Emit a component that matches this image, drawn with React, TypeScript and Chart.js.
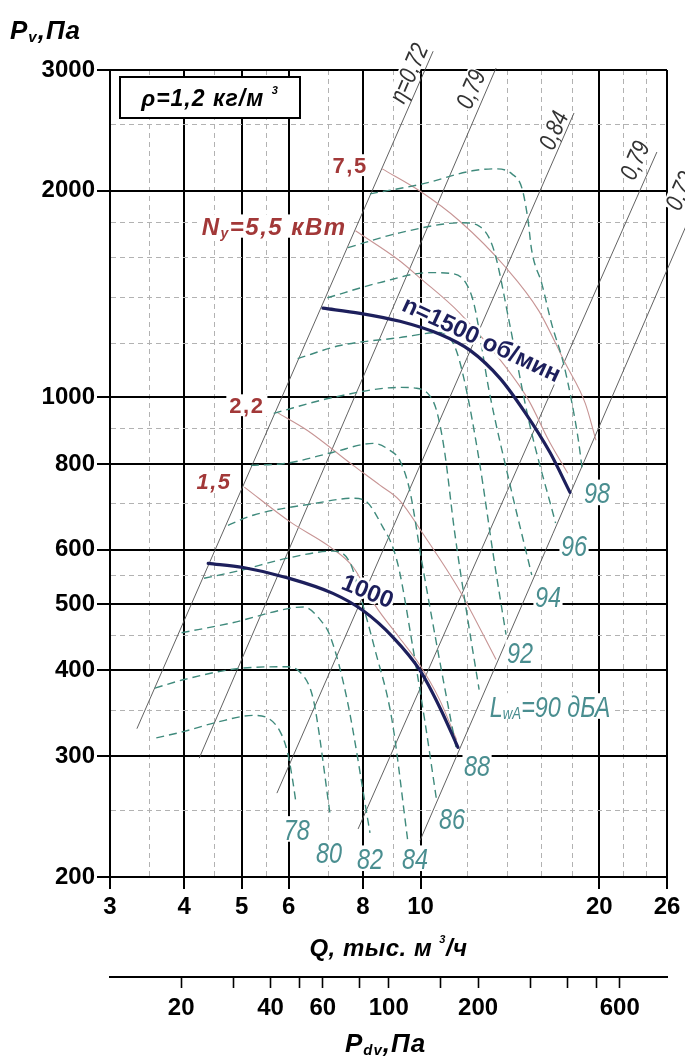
import React, { useEffect, useRef } from 'react';
import { Chart, registerables } from 'chart.js';

Chart.register(...registerables);

// ---------------- axes ----------------
const Q_MIN = 3;
const Q_MAX = 26;
const P_MIN = 200;
const P_MAX = 3000;
const Q_TICKS = [3, 3.5, 4, 4.5, 5, 5.5, 6, 7, 8, 9, 10, 12, 14, 16, 18, 20, 22, 24, 26];
const Q_LABELED = [3, 4, 5, 6, 8, 10, 20, 26];
const P_TICKS = [200, 250, 300, 350, 400, 450, 500, 550, 600, 700, 800, 900, 1000, 1200, 1400, 1600, 1800, 2000, 2500, 3000];
const P_LABELED = [200, 300, 400, 500, 600, 800, 1000, 2000, 3000];
const PDV_TICKS = [20, 30, 40, 50, 60, 80, 100, 150, 200, 300, 400, 500, 600];
const PDV_LABELED = [20, 40, 60, 100, 200, 600];
const PDV_PER_Q2 = 1.28; // Pdv = k * Q^2

// ---------------- speed curves ----------------
const N1500_Q = [6.85, 7.91, 9.23, 10.78, 12.12, 13.61, 14.99, 16.52, 17.85];
const N1500_P = [1349, 1326, 1291, 1236, 1171, 1066, 951, 831, 727];
const N1000_Q = [4.39, 5.03, 5.96, 7.12, 8.0, 8.99, 9.98, 10.78, 11.56];
const N1000_P = [573, 565, 546, 518, 489, 447, 400, 353, 309];
const SPEED_LABELS = ['n=1500 об/мин', '1000'];
const SPEED_LABEL_Q = [12.69, 8.16];
const SPEED_LABEL_P = [1219, 523];
const SPEED_LABEL_ROT = [25, 22];

// ---------------- efficiency rays ----------------
const ETA_NAMES = ['η=0,72', '0,79', '0,84', '0,79', '0,72'];
const ETA_Q_FROM = [3.33, 4.24, 5.73, 7.85, 9.98];
const ETA_P_FROM = [329, 298, 265, 235, 226];
const ETA_Q_TO = [10.5, 13.4, 18.13, 25.0, 29.0];
const ETA_P_TO = [3195, 3020, 2597, 2278, 1908];
const ETA_LABEL_Q = [9.53, 12.12, 16.71, 22.88, 27.3];
const ETA_LABEL_P = [2970, 2815, 2452, 2218, 2002];

// ---------------- motor power lines ----------------
const N75_Q = [8.62, 9.96, 11.62, 13.93, 15.81, 17.54, 18.94, 19.74];
const N75_P = [2153, 2000, 1809, 1545, 1338, 1120, 980, 866];
const N55_Q = [7.77, 9.22, 9.96, 11.62, 13.93, 15.21, 16.43, 17.7];
const N55_P = [1749, 1582, 1495, 1329, 1106, 990, 866, 775];
const N22_Q = [5.73, 6.45, 7.7, 8.54, 9.22, 10.08, 11.62, 13.4];
const N22_P = [951, 895, 796, 745, 708, 634, 524, 415];
const N15_Q = [5.05, 6.04, 7.05, 7.7, 8.38, 9.22, 9.96, 10.76, 11.5];
const N15_P = [740, 658, 605, 566, 498, 446, 408, 363, 317];
const POWER_LABEL_Q = [7.61, 5.67, 5.1, 4.49];
const POWER_LABEL_P = [2180, 1777, 974, 754];

// ---------------- sound power (LwA) curves ----------------
const L78_Q = [3.59, 4.0, 4.53, 5.24, 5.53, 5.81, 5.97, 6.09, 6.16];
const L78_P = [319, 326, 336, 344, 341, 325, 304, 277, 259];
const L80_Q = [3.57, 4.0, 4.99, 5.97, 6.28, 6.53, 6.65, 7.05];
const L80_P = [377, 388, 403, 405, 397, 375, 351, 245];
const L82_Q = [3.96, 4.8, 6.04, 6.35, 6.78, 7.05, 7.52, 8.22];
const L82_P = [454, 469, 493, 495, 474, 448, 363, 232];
const L84_Q = [4.32, 4.99, 5.97, 7.13, 7.61, 7.91, 8.38, 8.95, 9.51];
const L84_P = [545, 560, 583, 597, 574, 515, 429, 339, 227];
const L86_Q = [4.74, 5.24, 6.6, 7.7, 8.12, 8.64, 8.98, 9.22, 9.66, 10.16, 10.64];
const L86_P = [651, 674, 700, 713, 704, 647, 605, 557, 443, 339, 259];
const L88_Q = [5.18, 5.97, 7.13, 8.32, 8.88, 9.22, 9.59, 10.04, 10.76, 11.49];
const L88_P = [796, 802, 832, 857, 837, 810, 732, 579, 415, 307];
const L90_Q = [5.66, 7.13, 9.22, 9.85, 10.35, 10.64, 10.97, 11.4, 11.94, 12.55];
const L90_P = [948, 1000, 1034, 1031, 1007, 957, 837, 641, 490, 375];
const L92_Q = [6.21, 7.32, 9.22, 10.76, 11.4, 11.85, 12.55, 13.3, 13.93];
const L92_P = [1139, 1190, 1222, 1243, 1190, 1059, 810, 579, 451];
const L94_Q = [6.97, 8.54, 10.35, 11.31, 11.94, 12.32, 13.04, 14.09, 15.39];
const L94_P = [1397, 1470, 1520, 1515, 1465, 1361, 1024, 757, 551];
const L96_Q = [7.55, 9.22, 11.75, 12.55, 13.04, 13.4, 14.09, 15.21, 16.88];
const L96_P = [1653, 1737, 1797, 1777, 1709, 1598, 1294, 926, 656];
const L98_Q = [8.22, 10.08, 12.22, 13.4, 14.25, 14.81, 15.15, 15.39, 16.0, 16.62, 17.41, 17.95, 18.44, 18.7];
const L98_P = [1980, 2047, 2139, 2153, 2117, 2020, 1827, 1636, 1465, 1281, 1120, 990, 866, 790];
const LWA_NAMES = ['78', '80', '82', '84', '86', '88', '92', '94', '96', '98'];
const LWA_LABEL_Q = [6.19, 7.01, 8.22, 9.79, 11.3, 12.45, 14.7, 16.39, 18.13, 19.82];
const LWA_LABEL_P = [235, 217, 213, 213, 244, 291, 425, 514, 608, 727];
const LWA90_LABEL_Q = 16.52;
const LWA90_LABEL_P = 355;

// ---------------- styling ----------------
const SANS = "'Liberation Sans', Arial, sans-serif";
const NAVY = '#1d1f5c';
const TEAL_LINE = '#3f8a7c';
const TEAL_TEXT = '#4a8e90';
const POWER_LINE = '#c79494';
const POWER_TEXT = '#a23838';
const ETA_LINE = '#505050';

const pts = (qs: number[], ps: number[]) => qs.map((q, i) => ({ x: q, y: ps[i] }));

type Seg = { t: string; size: number; dy?: number };
type RichOpts = {
  weight?: string;
  style?: string;
  color: string;
  align?: 'left' | 'center';
  rot?: number;
  bg?: string;
  pad?: number;
  sx?: number;
  spacing?: number;
  halo?: number;
};

function drawRich(ctx: CanvasRenderingContext2D, segs: Seg[], x: number, y: number, o: RichOpts) {
  ctx.save();
  ctx.translate(x, y);
  if (o.rot) ctx.rotate((o.rot * Math.PI) / 180);
  if (o.sx) ctx.scale(o.sx, 1);
  (ctx as any).letterSpacing = (o.spacing ?? 0) + 'px';
  const fontOf = (s: Seg) => `${o.style ?? 'normal'} ${o.weight ?? 'normal'} ${s.size}px ${SANS}`;
  const widths = segs.map((s) => {
    ctx.font = fontOf(s);
    return ctx.measureText(s.t).width;
  });
  const w = widths.reduce((a, b) => a + b, 0);
  const main = Math.max(...segs.map((s) => s.size));
  const cap = main * 0.72;
  let cx = o.align === 'left' ? 0 : -w / 2;
  if (o.bg) {
    const pad = o.pad ?? 2;
    ctx.fillStyle = o.bg;
    ctx.fillRect(cx - pad, -cap / 2 - pad, w + pad * 2, cap + pad * 2);
  }
  ctx.textAlign = 'left';
  ctx.textBaseline = 'alphabetic';
  segs.forEach((s, i) => {
    ctx.font = fontOf(s);
    if (o.halo) {
      ctx.strokeStyle = '#ffffff';
      ctx.lineWidth = o.halo;
      ctx.lineJoin = 'round';
      ctx.strokeText(s.t, cx, cap / 2 + (s.dy ?? 0));
    }
    ctx.fillStyle = o.color;
    ctx.fillText(s.t, cx, cap / 2 + (s.dy ?? 0));
    cx += widths[i];
  });
  ctx.restore();
}

const overlayPlugin = {
  id: 'fanOverlay',
  afterDatasetsDraw(chart: any) {
    const { ctx, chartArea, scales } = chart;
    const X = (q: number) => scales.x.getPixelForValue(q);
    const Y = (p: number) => scales.y.getPixelForValue(p);

    // efficiency labels
    ETA_NAMES.forEach((t, i) => {
      const ang =
        (Math.atan2(Y(ETA_P_TO[i]) - Y(ETA_P_FROM[i]), X(ETA_Q_TO[i]) - X(ETA_Q_FROM[i])) * 180) / Math.PI;
      drawRich(ctx, [{ t, size: 25 }], X(ETA_LABEL_Q[i]), Y(ETA_LABEL_P[i]), {
        style: 'italic',
        color: '#333',
        rot: ang,
        bg: '#fff',
        pad: 1,
        sx: 0.8,
      });
    });

    // power labels
    const powerOpts = { weight: 'bold', color: POWER_TEXT, bg: '#fff', pad: 3, spacing: 1.5 };
    drawRich(ctx, [{ t: '7,5', size: 22 }], X(POWER_LABEL_Q[0]), Y(POWER_LABEL_P[0]), powerOpts);
    drawRich(
      ctx,
      [
        { t: 'N', size: 24 },
        { t: 'у', size: 14, dy: 3 },
        { t: '=5,5 кВт', size: 24 },
      ],
      X(POWER_LABEL_Q[1]),
      Y(POWER_LABEL_P[1]),
      { ...powerOpts, style: 'italic', spacing: 1.5 }
    );
    drawRich(ctx, [{ t: '2,2', size: 22 }], X(POWER_LABEL_Q[2]), Y(POWER_LABEL_P[2]), powerOpts);
    drawRich(ctx, [{ t: '1,5', size: 22 }], X(POWER_LABEL_Q[3]), Y(POWER_LABEL_P[3]), { ...powerOpts, style: 'italic' });

    // LwA labels
    const lwaOpts = { style: 'italic', color: TEAL_TEXT, bg: '#fff', pad: 2, sx: 0.78 };
    LWA_NAMES.forEach((t, i) => {
      drawRich(ctx, [{ t, size: 30 }], X(LWA_LABEL_Q[i]), Y(LWA_LABEL_P[i]), lwaOpts);
    });
    drawRich(
      ctx,
      [
        { t: 'L', size: 30 },
        { t: 'wA', size: 17, dy: 2 },
        { t: '=90 дБА', size: 30 },
      ],
      X(LWA90_LABEL_Q),
      Y(LWA90_LABEL_P),
      lwaOpts
    );

    // speed labels
    SPEED_LABELS.forEach((t, i) => {
      drawRich(ctx, [{ t, size: 24 }], X(SPEED_LABEL_Q[i]), Y(SPEED_LABEL_P[i]), {
        weight: 'bold',
        color: NAVY,
        rot: SPEED_LABEL_ROT[i],
        halo: 5,
      });
    });

    // density box
    const bx = chartArea.left + 10;
    const by = chartArea.top + 7;
    ctx.save();
    ctx.fillStyle = '#fff';
    ctx.fillRect(bx, by, 180, 41);
    ctx.strokeStyle = '#000';
    ctx.lineWidth = 2;
    ctx.strokeRect(bx, by, 180, 41);
    ctx.restore();
    drawRich(
      ctx,
      [
        { t: 'ρ=1,2 кг/м ', size: 23 },
        { t: '3', size: 11, dy: -12 },
      ],
      bx + 90,
      by + 21,
      { weight: 'bold', style: 'italic', color: '#000', spacing: 1 }
    );

    // axis titles
    drawRich(
      ctx,
      [
        { t: 'P', size: 26 },
        { t: 'v', size: 15, dy: 3 },
        { t: ',Па', size: 26 },
      ],
      10,
      30,
      { weight: 'bold', style: 'italic', color: '#000', align: 'left', spacing: 1 }
    );
    const midX = (chartArea.left + chartArea.right) / 2;
    drawRich(
      ctx,
      [
        { t: 'Q, тыс. м ', size: 24 },
        { t: '3', size: 11, dy: -13 },
        { t: '/ч', size: 24 },
      ],
      midX,
      947,
      { weight: 'bold', style: 'italic', color: '#000', spacing: 0.5 }
    );
    drawRich(
      ctx,
      [
        { t: 'P', size: 26 },
        { t: 'dv', size: 15, dy: 3 },
        { t: ',Па', size: 26 },
      ],
      midX - 3,
      1043,
      { weight: 'bold', style: 'italic', color: '#000', spacing: 1 }
    );
  },
};

const isIn = (arr: number[], v: number) => arr.some((a) => Math.abs(a - v) < 1e-9);

function gridOpts(labeled: number[]) {
  const major = (c: any) => c.tick && isIn(labeled, c.tick.value);
  return {
    grid: {
      color: (c: any) => (major(c) ? '#000' : '#b2b2b2'),
      lineWidth: (c: any) => (major(c) ? 2 : 1),
      tickColor: (c: any) => (major(c) ? '#000' : 'rgba(0,0,0,0)'),
      tickWidth: 2,
    },
    border: {
      display: true,
      color: '#000',
      width: 2,
      dash: (c: any) => (c.tick && !major(c) ? [5, 4] : []),
    },
  };
}

const tickFont = { family: SANS, size: 24, weight: 'bold' as const };

function buildConfig(): any {
  const line = (data: any[], color: string, width: number, extra: any = {}) => ({
    data,
    showLine: true,
    borderColor: color,
    borderWidth: width,
    pointRadius: 0,
    pointHoverRadius: 0,
    fill: false,
    cubicInterpolationMode: 'monotone',
    ...extra,
  });

  const datasets: any[] = [];
  datasets.push(line(pts(N1500_Q, N1500_P), NAVY, 3.2, { order: 0, borderCapStyle: 'round' }));
  datasets.push(line(pts(N1000_Q, N1000_P), NAVY, 3.2, { order: 0, borderCapStyle: 'round' }));

  const hooks = [
    [L78_Q, L78_P],
    [L80_Q, L80_P],
    [L82_Q, L82_P],
    [L84_Q, L84_P],
    [L86_Q, L86_P],
    [L88_Q, L88_P],
    [L90_Q, L90_P],
    [L92_Q, L92_P],
    [L94_Q, L94_P],
    [L96_Q, L96_P],
    [L98_Q, L98_P],
  ];
  hooks.forEach(([q, p]) => datasets.push(line(pts(q, p), TEAL_LINE, 1.4, { order: 1, borderDash: [8, 5] })));

  const power = [
    [N75_Q, N75_P],
    [N55_Q, N55_P],
    [N22_Q, N22_P],
    [N15_Q, N15_P],
  ];
  power.forEach(([q, p]) => datasets.push(line(pts(q, p), POWER_LINE, 1.1, { order: 2 })));

  ETA_NAMES.forEach((_, i) =>
    datasets.push(
      line(
        [
          { x: ETA_Q_FROM[i], y: ETA_P_FROM[i] },
          { x: ETA_Q_TO[i], y: ETA_P_TO[i] },
        ],
        ETA_LINE,
        0.9,
        { order: 3, clip: false, cubicInterpolationMode: 'default', tension: 0 }
      )
    )
  );

  const xg = gridOpts(Q_LABELED);
  const yg = gridOpts(P_LABELED);

  return {
    type: 'scatter',
    data: { datasets },
    options: {
      responsive: false,
      animation: false,
      events: [],
      layout: { padding: { top: 70, right: 18, left: 0, bottom: 0 } },
      plugins: { legend: { display: false }, tooltip: { enabled: false }, title: { display: false } },
      scales: {
        x: {
          type: 'logarithmic',
          position: 'bottom',
          weight: 0,
          min: Q_MIN,
          max: Q_MAX,
          afterBuildTicks: (s: any) => {
            s.ticks = Q_TICKS.map((v) => ({ value: v }));
          },
          afterFit: (s: any) => {
            s.height = 100;
          },
          ticks: {
            autoSkip: false,
            maxRotation: 0,
            minRotation: 0,
            padding: 4,
            color: '#000',
            font: tickFont,
            callback: (v: number) => (isIn(Q_LABELED, v) ? String(v) : ''),
          },
          grid: { ...xg.grid, tickLength: 12 },
          border: xg.border,
        },
        x2: {
          type: 'logarithmic',
          position: 'bottom',
          weight: 1,
          min: PDV_PER_Q2 * Q_MIN * Q_MIN,
          max: PDV_PER_Q2 * Q_MAX * Q_MAX,
          afterBuildTicks: (s: any) => {
            s.ticks = PDV_TICKS.map((v) => ({ value: v }));
          },
          afterFit: (s: any) => {
            s.height = 79;
          },
          ticks: {
            autoSkip: false,
            maxRotation: 0,
            minRotation: 0,
            padding: 6,
            color: '#000',
            font: tickFont,
            callback: (v: number) => (isIn(PDV_LABELED, v) ? String(v) : ''),
          },
          grid: {
            drawOnChartArea: false,
            drawTicks: true,
            tickLength: 11,
            tickColor: '#000',
            tickWidth: 1.6,
            color: '#000',
          },
          border: { display: true, color: '#000', width: 2 },
        },
        y: {
          type: 'logarithmic',
          position: 'left',
          min: P_MIN,
          max: P_MAX,
          afterBuildTicks: (s: any) => {
            s.ticks = P_TICKS.map((v) => ({ value: v }));
          },
          afterFit: (s: any) => {
            s.width = 110;
          },
          ticks: {
            autoSkip: false,
            padding: 2,
            color: '#000',
            font: tickFont,
            callback: (v: number) => (isIn(P_LABELED, v) ? String(v) : ''),
          },
          grid: { ...yg.grid, tickLength: 13 },
          border: yg.border,
        },
      },
    },
    plugins: [overlayPlugin],
  };
}

export default function App() {
  const ref = useRef<HTMLCanvasElement>(null);
  useEffect(() => {
    document.body.style.margin = '0';
    if (!ref.current) return;
    const chart = new Chart(ref.current, buildConfig());
    return () => chart.destroy();
  }, []);
  return (
    <div style={{ width: 685, height: 1056, background: '#fff' }}>
      <canvas ref={ref} width={685} height={1056} style={{ display: 'block' }} />
    </div>
  );
}
